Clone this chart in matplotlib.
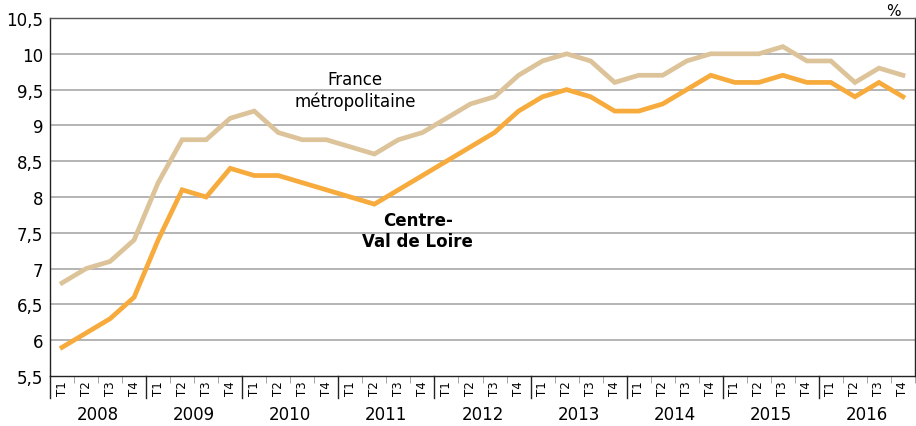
import numpy as np
import matplotlib.pyplot as plt
from matplotlib.transforms import blended_transform_factory

# ---- données ----
years = ["2008", "2009", "2010", "2011", "2012", "2013", "2014", "2015", "2016"]
quarters = ["T1", "T2", "T3", "T4"]

france = [6.8, 7.0, 7.1, 7.4,
          8.2, 8.8, 8.8, 9.1,
          9.2, 8.9, 8.8, 8.8,
          8.7, 8.6, 8.8, 8.9,
          9.1, 9.3, 9.4, 9.7,
          9.9, 10.0, 9.9, 9.6,
          9.7, 9.7, 9.9, 10.0,
          10.0, 10.0, 10.1, 9.9,
          9.9, 9.6, 9.8, 9.7]

centre = [5.9, 6.1, 6.3, 6.6,
          7.4, 8.1, 8.0, 8.4,
          8.3, 8.3, 8.2, 8.1,
          8.0, 7.9, 8.1, 8.3,
          8.5, 8.7, 8.9, 9.2,
          9.4, 9.5, 9.4, 9.2,
          9.2, 9.3, 9.5, 9.7,
          9.6, 9.6, 9.7, 9.6,
          9.6, 9.4, 9.6, 9.4]

yticks = [5.5, 6, 6.5, 7, 7.5, 8, 8.5, 9, 9.5, 10, 10.5]

# ---- figure ----
plt.rcParams['font.family'] = 'DejaVu Sans'
fig = plt.figure(figsize=(9.16, 4.27), dpi=100)
ax = fig.add_axes([0.0546, 0.1171, 0.9443, 0.8384])

n = len(france)
x = np.arange(n)

for v in yticks[1:-1]:
    ax.axhline(v, color="#b4b4b4", lw=1.4, zorder=1)

ax.plot(x, france, color="#dcc39a", lw=3.4, solid_joinstyle="miter", zorder=3)
ax.plot(x, centre, color="#f7ab3d", lw=3.4, solid_joinstyle="miter", zorder=4)

ax.set_xlim(-0.5, n - 0.5)
ax.set_ylim(5.5, 10.5)
ax.set_yticks(yticks)
ax.set_yticklabels([f"{v:g}".replace(".", ",") for v in yticks], fontsize=12)
ax.tick_params(axis="y", length=0, pad=5)

ax.set_xticks(x)
ax.set_xticklabels(quarters * len(years), rotation=90, fontsize=8.5, va="top")
ax.tick_params(axis="x", which="major", length=0, pad=3)
ax.set_xticks(np.arange(-0.5, n, 1), minor=True)
ax.tick_params(axis="x", which="minor", length=5, width=0.6, color="#999999")

for s in ax.spines.values():
    s.set_color("#222222")
    s.set_linewidth(1.0)
ax.spines["top"].set_color("#555555")

# séparateurs d'années et libellés
tr = blended_transform_factory(ax.transData, ax.transAxes)
for k, yr in enumerate(years):
    ax.plot([4 * k - 0.5, 4 * k - 0.5], [0, -0.062], transform=tr,
            color="#222222", lw=1.0, clip_on=False)
    ax.text(4 * k + 1.5, -0.106, yr, transform=tr, ha="center", va="center",
            fontsize=12)

ax.text(12.2, 9.5, "France\nmétropolitaine", ha="center", va="center",
        fontsize=12, linespacing=1.25)
ax.text(14.8, 7.53, "Centre-\nVal de Loire", ha="center", va="center",
        fontsize=12, fontweight="bold", linespacing=1.25)

fig.text(0.975, 0.99, "%", ha="center", va="top", fontsize=11)

fig.savefig("out.png", dpi=100)
